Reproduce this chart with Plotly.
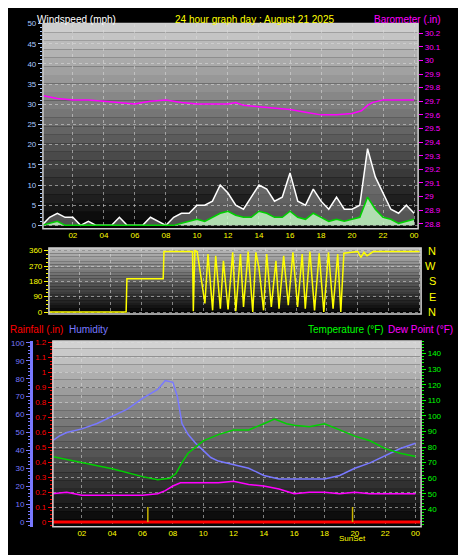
import plotly.graph_objects as go

W, H = 466, 555

# ---- data ----
baro_t = [0.1, 0.5, 1, 2, 3, 4, 5, 6, 6.5, 7, 8, 9, 10, 11, 12, 12.5, 13, 14, 15, 16, 17, 18, 19, 20, 20.6, 21.0, 21.3, 22, 23, 24]
baro = [29.74, 29.73, 29.72, 29.71, 29.71, 29.70, 29.69, 29.68, 29.69, 29.70, 29.71, 29.69, 29.68, 29.68, 29.68, 29.69, 29.67, 29.66,
        29.65, 29.64, 29.62, 29.60, 29.60, 29.61, 29.63, 29.67, 29.69, 29.71, 29.71, 29.71]

wind_t = [i * 0.5 for i in range(49)]
gust = [0, 2, 3, 2, 2, 0, 1, 0, 0, 0, 2, 0, 0, 0, 2, 1, 0, 2, 3, 3, 5, 5, 6, 10, 8, 5, 4, 7, 10, 9, 6, 7, 13, 6, 5, 9, 6, 4,
        7, 4, 4, 5, 19, 12, 8, 4, 3, 5, 3]
avg = [0, 0.5, 1, 0, 0, 0, 0, 0, 0, 0, 0, 0, 0, 0, 0, 0, 0, 0, 0.5, 1, 1.5, 1, 2, 3, 3.5, 2.5, 2, 2, 3.5, 3, 2, 2, 3.5, 2,
       1.5, 3, 2, 1, 1.5, 1, 1.5, 2, 7, 4, 2, 1.5, 0.5, 1, 1.5]

dir_t = [0, 5, 5.05, 7.4, 7.45, 9.3, 9.35, 9.45, 9.6, 10.1, 10.3, 10.6, 10.8, 11.1, 11.3, 11.6, 11.9, 12.1, 12.4, 12.6, 12.9,
         13.2, 13.4, 13.6, 13.9, 14.1, 14.4, 14.7, 14.9, 15.2, 15.5, 15.8, 16.1, 16.4, 16.6, 16.9, 17.2, 17.5, 17.8, 18.1,
         18.4, 18.7, 18.9, 19.1, 19.6, 20.0, 20.2, 20.4, 20.6, 21, 24]
wdir = [0, 0, 195, 195, 355, 355, 5, 360, 355, 50, 340, 10, 330, 20, 300, 15, 350, 5, 340, 30, 355, 0, 350, 260, 10, 340,
        30, 300, 20, 330, 40, 350, 30, 340, 20, 355, 10, 345, 0, 350, 20, 340, 0, 345, 350, 355, 320, 350, 330, 355, 355]

hum_t = [0, 0.5, 1, 2, 3, 4, 5, 6, 7, 7.5, 8, 8.3, 8.6, 9, 9.5, 10, 10.5, 11, 12, 13, 14, 15, 16, 17, 18, 19, 20, 21, 22, 23, 24]
hum = [45, 48, 50, 52, 55, 59, 63, 69, 74, 79, 78, 70, 55, 49, 44, 40, 36, 34, 32, 30, 26, 24, 24, 24, 24, 26, 30, 33, 37, 41, 44]

temp_t = [0, 2, 4, 6, 7, 7.8, 8.2, 8.6, 9, 10, 11, 12, 13, 14, 14.7, 15.5, 16, 17, 18, 19, 20, 21, 22, 23, 24]
temp = [74, 70, 66, 61, 59, 60, 63, 70, 76, 84, 88, 91, 91, 95, 98, 95, 94, 93, 95, 91, 87, 84, 79, 76, 74]

dew_t = [0, 1, 2, 4, 6, 7, 7.5, 8, 8.5, 9, 10, 11, 12, 13, 14, 15, 16, 17, 18, 19, 20, 21, 22, 23, 24]
dew = [50, 51, 49, 49, 49, 50, 52, 55, 57, 57, 57, 57, 58, 56, 55, 53, 50, 51, 51, 50, 51, 50, 50, 50, 50]

rain_t = [0, 24.3]
rain = [0, 0]

sun_events = [6.35, 19.85]

hour_ticks = [2, 4, 6, 8, 10, 12, 14, 16, 18, 20, 22, 24]
hour_labels = ["02", "04", "06", "08", "10", "12", "14", "16", "18", "20", "22", "00"]

# the page sits a few px in from the window's top-left corner; pull x back and squeeze y a bit
OFFX = 7
SY = 0.98


def px(x):
    return (x - OFFX) / W


def py(y):
    return 1 - y * SY / H


FONT = "Liberation Sans"
YEL = "#ffff00"
fig = go.Figure()

# wind panel
fig.add_trace(go.Scatter(x=wind_t, y=gust, mode="lines", line=dict(color="white", width=1.5),
                         fill="tozeroy", fillcolor="rgba(255,255,255,0.3)", xaxis="x", yaxis="y"))
fig.add_trace(go.Scatter(x=wind_t, y=avg, mode="lines", line=dict(color="#00d000", width=1.5),
                         fill="tozeroy", fillcolor="rgba(200,255,200,0.8)", xaxis="x", yaxis="y"))
fig.add_trace(go.Scatter(x=baro_t, y=baro, mode="lines", line=dict(color="#ff00ff", width=1.5),
                         xaxis="x", yaxis="y2"))
# direction panel
fig.add_trace(go.Scatter(x=dir_t, y=wdir, mode="lines", line=dict(color="#ffff00", width=1.5),
                         xaxis="x2", yaxis="y3"))
# bottom panel
fig.add_trace(go.Scatter(x=hum_t, y=hum, mode="lines", line=dict(color="#7878ff", width=1.5),
                         xaxis="x3", yaxis="y4"))
fig.add_trace(go.Scatter(x=rain_t, y=rain, mode="lines", line=dict(color="#ff0000", width=3),
                         xaxis="x3", yaxis="y5"))
fig.add_trace(go.Scatter(x=temp_t, y=temp, mode="lines", line=dict(color="#00d000", width=1.5),
                         xaxis="x3", yaxis="y6"))
fig.add_trace(go.Scatter(x=dew_t, y=dew, mode="lines", line=dict(color="#ff00ff", width=1.5),
                         xaxis="x3", yaxis="y6"))
for s in sun_events:
    fig.add_trace(go.Scatter(x=[s, s], y=[0, 0.1], mode="lines", line=dict(color="#c8b400", width=1.5),
                             xaxis="x3", yaxis="y5"))

# gradient backgrounds
shapes = []
panels = [((42, 418), (12, 224), 200), ((48, 421), (244, 312), 180), ((52, 421), (340, 532), 205)]
for (x0, x1), (y0, y1), top in panels:
    n = 24
    for i in range(n):
        c = int(top * (1 - i / (n - 1)) + 5)
        shapes.append(dict(type="rect", xref="paper", yref="paper", x0=px(x0), x1=px(x1),
                           y0=py(y0 + (y1 - y0) * i / n), y1=py(y0 + (y1 - y0) * (i + 1) / n),
                           fillcolor=f"rgb({c},{c},{c})", line=dict(width=0), layer="below"))
    shapes.append(dict(type="rect", xref="paper", yref="paper", x0=px(x0), x1=px(x1), y0=py(y1), y1=py(y0),
                       line=dict(color="#d0d0d0", width=1.5), layer="above"))

grid = dict(showgrid=True, gridcolor="rgba(220,220,220,0.55)", griddash="dot", gridwidth=1, zeroline=False)
tickf = dict(family=FONT, size=8)

annotations = [
    dict(text="Windspeed (mph)", x=px(34), y=1, xanchor="left", yanchor="top", font=dict(color="white", size=10)),
    dict(text="24 hour graph day : August 21 2025", x=px(172), y=1, xanchor="left", yanchor="top",
         font=dict(color=YEL, size=10)),
    dict(text="Barometer (.in)", x=px(372), y=1, xanchor="left", yanchor="top", font=dict(color="#ff00ff", size=10)),
    dict(text="Rainfall (.in)", x=0, y=py(320), xanchor="left", yanchor="top", font=dict(color="#ff0000", size=10)),
    dict(text="Humidity", x=px(66), y=py(320), xanchor="left", yanchor="top", font=dict(color="#7878ff", size=10)),
    dict(text="Temperature (°F)", x=px(386), y=py(320), xanchor="right", yanchor="top", font=dict(color="#00ff00", size=10)),
    dict(text="Dew Point (°F)", x=px(455), y=py(320), xanchor="right", yanchor="top", font=dict(color="#ff00ff", size=10)),
    dict(text="SunSet", x=19.85, y=py(537), xref="x3", yref="paper", xanchor="center", yanchor="top",
         font=dict(color=YEL, size=8)),
]
for lbl, v in zip(["N", "W", "S", "E", "N"], [360, 270, 180, 90, 0]):
    annotations.append(dict(text=lbl, x=px(438), y=v, xref="paper", yref="y3", showarrow=False,
                            font=dict(color=YEL, size=11)))
for a in annotations:
    a.setdefault("xref", "paper")
    a.setdefault("yref", "paper")
    a["showarrow"] = False
    a["font"]["family"] = FONT

fig.update_layout(
    width=W, height=H, margin=dict(l=0, r=0, t=0, b=0),
    paper_bgcolor="black", plot_bgcolor="black", showlegend=False,
    font=dict(family=FONT, size=8),
    shapes=shapes, annotations=annotations,
    xaxis=dict(domain=[px(42), px(418)], range=[0.07, 24.26], tickvals=hour_ticks, ticktext=hour_labels,
               tickfont=dict(color=YEL, **tickf), ticks="", anchor="y", **grid),
    yaxis=dict(domain=[py(224), py(12)], range=[-0.84, 50], dtick=5, tickfont=dict(color="#a8c8ff", **tickf),
               ticks="outside", ticklen=4, tickcolor="#a8c8ff",
               minor=dict(ticks="outside", dtick=1, ticklen=2, tickcolor="#a8c8ff"), anchor="x", **grid),
    yaxis2=dict(overlaying="y", side="right", range=[28.764, 30.27], tickvals=[28.8 + 0.1 * i for i in range(15)],
                ticktext=["28.8", "28.9", "29", "29.1", "29.2", "29.3", "29.4", "29.5", "29.6", "29.7", "29.8",
                          "29.9", "30", "30.1", "30.2"],
                tickfont=dict(color="#ff00ff", **tickf), ticks="outside", ticklen=4, tickcolor="#ff00ff",
                showgrid=False, zeroline=False, anchor="x"),
    xaxis2=dict(domain=[px(48), px(421)], range=[0, 24.1], showticklabels=False, ticks="", tickvals=hour_ticks,
                anchor="y3", **grid),
    yaxis3=dict(domain=[py(312), py(244)], range=[-11, 375], tickvals=[0, 90, 180, 270, 360],
                tickfont=dict(color=YEL, **tickf), ticks="outside", ticklen=4, tickcolor=YEL,
                minor=dict(ticks="outside", dtick=22.5, ticklen=2, tickcolor=YEL), anchor="x2", **grid),
    xaxis3=dict(domain=[px(52), px(421)], range=[0.09, 24.37], tickvals=hour_ticks, ticktext=hour_labels,
                tickfont=dict(color=YEL, **tickf), ticks="", anchor="y5", **grid),
    yaxis4=dict(overlaying="y5", side="left", anchor="free", position=px(30), range=[-2.7, 101.1], dtick=10,
                tickfont=dict(color="#7878ff", **tickf), ticks="outside", ticklen=4, tickcolor="#7878ff",
                minor=dict(ticks="outside", dtick=2, ticklen=2, tickcolor="#7878ff"),
                showline=True, linecolor="#7878ff", linewidth=3, showgrid=False, zeroline=False),
    yaxis5=dict(domain=[py(532), py(340)], range=[-0.032, 1.209], dtick=0.1, tickformat="~g",
                tickfont=dict(color="#ff0000", **tickf), ticks="outside", ticklen=4, tickcolor="#ff0000",
                minor=dict(ticks="outside", dtick=0.025, ticklen=2, tickcolor="#ff0000"),
                showline=True, linecolor="#ff3030", linewidth=1, anchor="x3", **grid),
    yaxis6=dict(overlaying="y5", side="right", anchor="x3", range=[28.8, 148.1],
                tickvals=[40, 50, 60, 70, 80, 90, 100, 110, 120, 130, 140],
                tickfont=dict(color="#00ff00", **tickf), ticks="outside", ticklen=4, tickcolor="#00ff00",
                minor=dict(ticks="outside", dtick=2, ticklen=2, tickcolor="#00ff00"),
                showgrid=False, zeroline=False),
)

fig.write_html("out.html")
